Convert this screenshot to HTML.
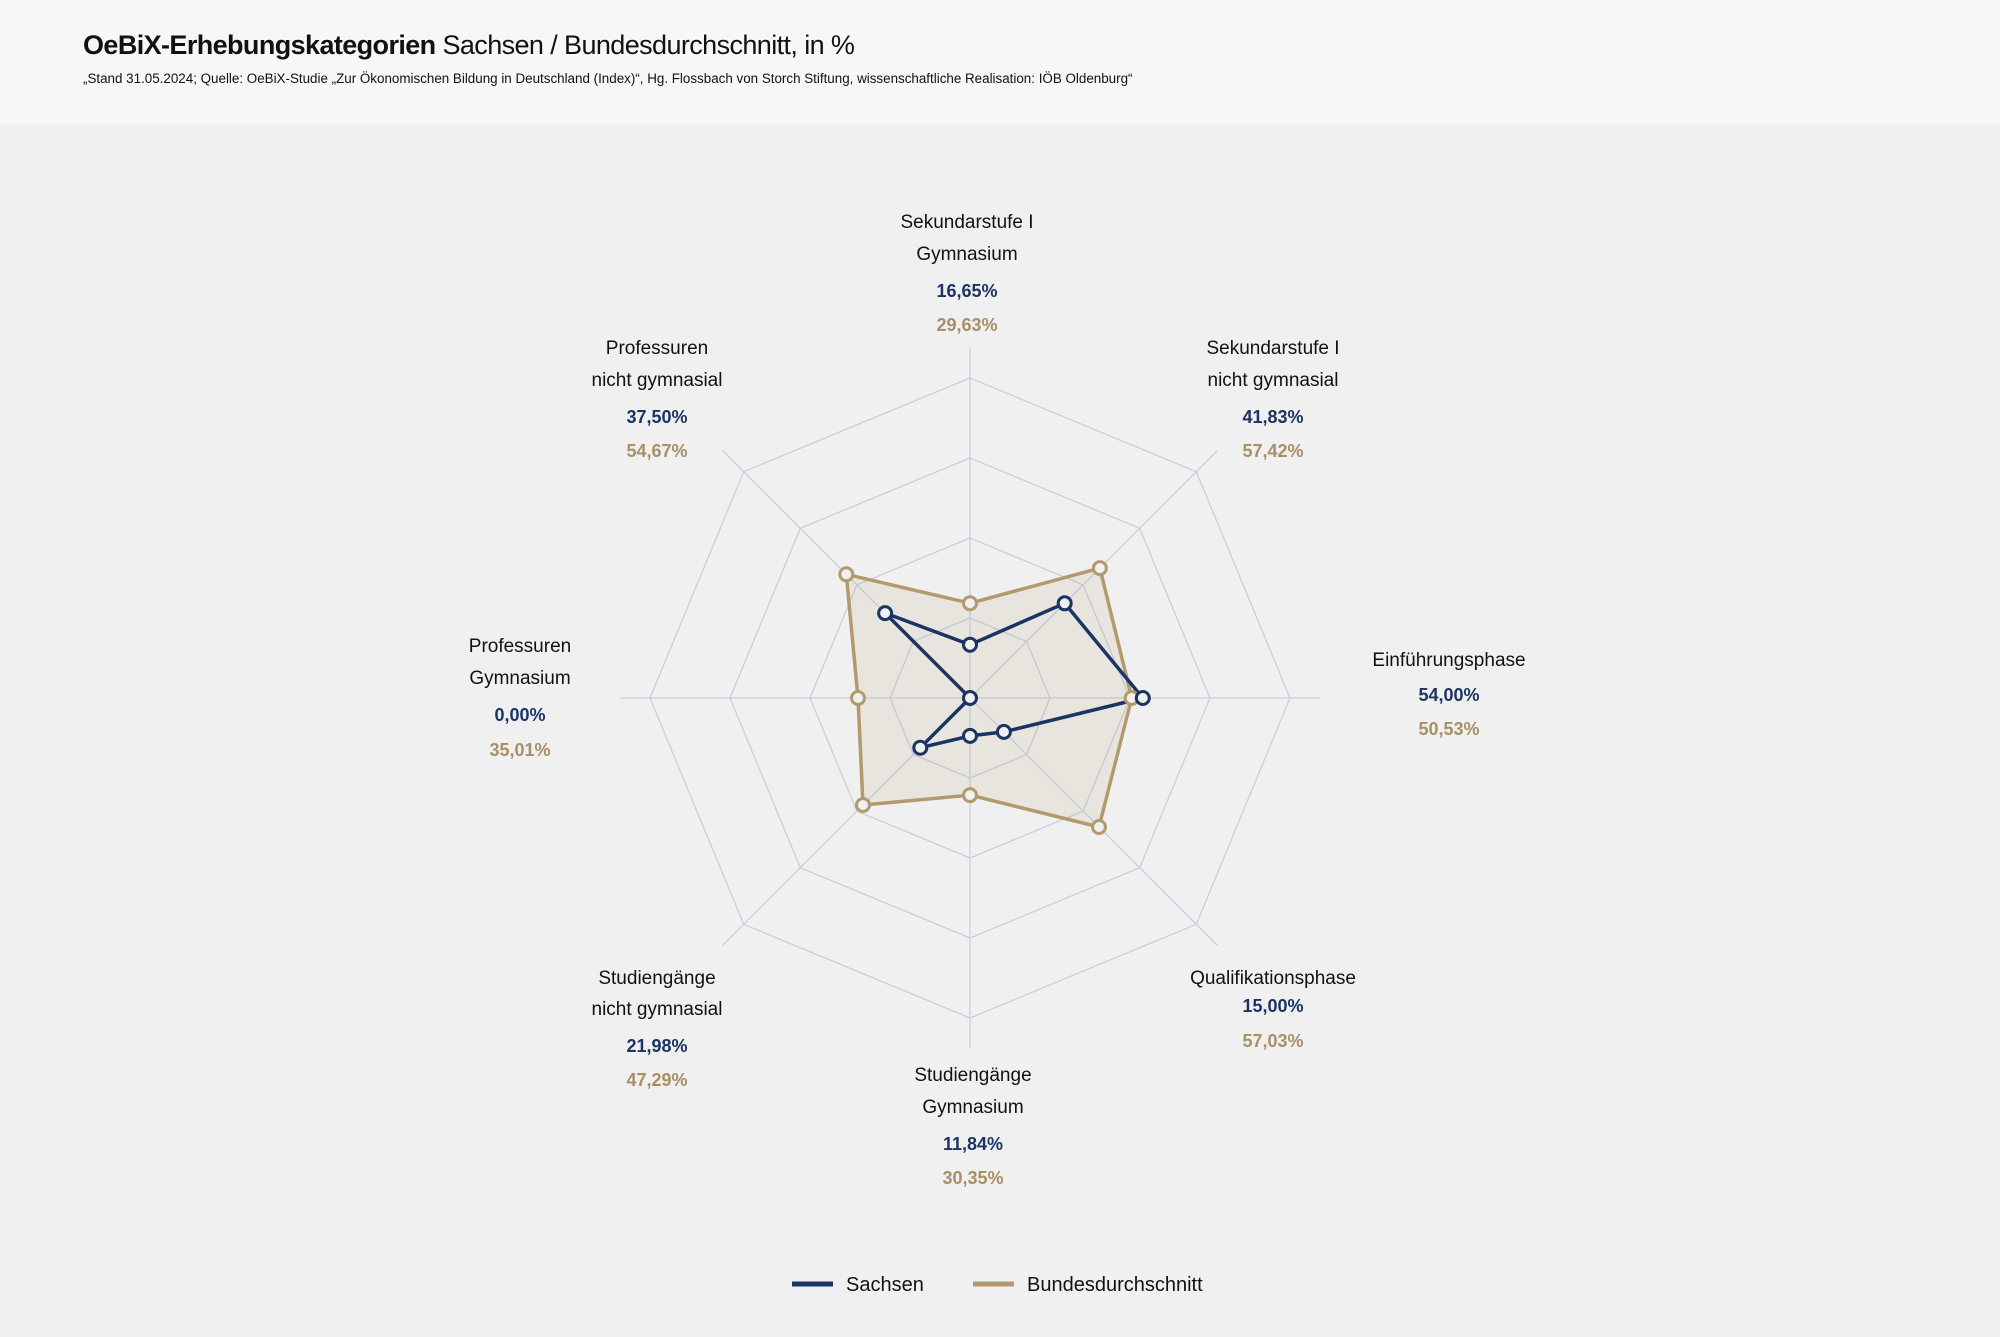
<!DOCTYPE html>
<html><head><meta charset="utf-8"><style>
html,body{margin:0;padding:0}
body{width:2000px;height:1337px;background:#f0f0f0;font-family:"Liberation Sans",sans-serif;position:relative;overflow:hidden}
.hdr{position:absolute;left:0;top:0;width:2000px;height:124px;background:#f7f7f7}
.t{position:absolute;left:83px;top:30px;font-size:27px;color:#111;white-space:nowrap;letter-spacing:-0.6px}
.s{position:absolute;left:83px;top:71px;font-size:13.4px;color:#111;white-space:nowrap;letter-spacing:0}
</style></head><body>
<div class="hdr"></div>
<div class="t"><b>OeBiX-Erhebungskategorien</b> Sachsen / Bundesdurchschnitt, in %</div>
<div class="s">„Stand 31.05.2024; Quelle: OeBiX-Studie „Zur Ökonomischen Bildung in Deutschland (Index)“, Hg. Flossbach von Storch Stiftung, wissenschaftliche Realisation: IÖB Oldenburg“</div>
<svg width="2000" height="1337" style="position:absolute;left:0;top:0" font-family="Liberation Sans, sans-serif">
<g fill="none" stroke="#c8cedc" stroke-width="1.3">
<polygon points="970,618 1026.6,641.4 1050,698 1026.6,754.6 970,778 913.4,754.6 890,698 913.4,641.4"/>
<polygon points="970,538 1083.1,584.9 1130,698 1083.1,811.1 970,858 856.9,811.1 810,698 856.9,584.9"/>
<polygon points="970,458 1139.7,528.3 1210,698 1139.7,867.7 970,938 800.3,867.7 730,698 800.3,528.3"/>
<polygon points="970,378 1196.3,471.7 1290,698 1196.3,924.3 970,1018 743.7,924.3 650,698 743.7,471.7"/>
<line x1="970" y1="348" x2="970" y2="1048"/>
<line x1="620" y1="698" x2="1320" y2="698"/>
<line x1="722.5" y1="450.5" x2="1217.5" y2="945.5"/>
<line x1="1217.5" y1="450.5" x2="722.5" y2="945.5"/>
</g>
<polygon points="970,603.2 1099.9,568.1 1131.7,698 1099,827 970,795.1 863,805 858,698 846.3,574.3" fill="rgba(179,154,110,0.13)" stroke="#b39a6e" stroke-width="3.5" stroke-linejoin="round"/>
<polygon points="970,644.7 1064.7,603.3 1142.8,698 1003.9,731.9 970,735.9 920.3,747.7 970,698 885.1,613.1" fill="none" stroke="#1c3463" stroke-width="3.5" stroke-linejoin="round"/>
<g fill="#f0f0f0" stroke="#b39a6e" stroke-width="3">
<circle cx="970" cy="603.2" r="6.5"/><circle cx="1099.9" cy="568.1" r="6.5"/><circle cx="1131.7" cy="698" r="6.5"/><circle cx="1099" cy="827" r="6.5"/><circle cx="970" cy="795.1" r="6.5"/><circle cx="863" cy="805" r="6.5"/><circle cx="858" cy="698" r="6.5"/><circle cx="846.3" cy="574.3" r="6.5"/>
</g>
<g fill="#f0f0f0" stroke="#1c3463" stroke-width="3">
<circle cx="970" cy="644.7" r="6.5"/><circle cx="1064.7" cy="603.3" r="6.5"/><circle cx="1142.8" cy="698" r="6.5"/><circle cx="1003.9" cy="731.9" r="6.5"/><circle cx="970" cy="735.9" r="6.5"/><circle cx="920.3" cy="747.7" r="6.5"/><circle cx="970" cy="698" r="6.5"/><circle cx="885.1" cy="613.1" r="6.5"/>
</g>
<g font-size="19" text-anchor="middle" fill="#111">
<text x="967" y="228">Sekundarstufe I</text><text x="967" y="260">Gymnasium</text>
<text x="1273" y="354">Sekundarstufe I</text><text x="1273" y="386">nicht gymnasial</text>
<text x="1449" y="666">Einführungsphase</text>
<text x="1273" y="984">Qualifikationsphase</text>
<text x="973" y="1081">Studiengänge</text><text x="973" y="1113">Gymnasium</text>
<text x="657" y="984">Studiengänge</text><text x="657" y="1015">nicht gymnasial</text>
<text x="520" y="652">Professuren</text><text x="520" y="684">Gymnasium</text>
<text x="657" y="354">Professuren</text><text x="657" y="386">nicht gymnasial</text>
</g>
<g font-size="18" font-weight="bold" text-anchor="middle" fill="#1c3463">
<text x="967" y="297">16,65%</text><text x="1273" y="423">41,83%</text><text x="1449" y="701">54,00%</text><text x="1273" y="1012">15,00%</text><text x="973" y="1150">11,84%</text><text x="657" y="1052">21,98%</text><text x="520" y="721">0,00%</text><text x="657" y="423">37,50%</text>
</g>
<g font-size="18" font-weight="bold" text-anchor="middle" fill="#a88f66">
<text x="967" y="331">29,63%</text><text x="1273" y="457">57,42%</text><text x="1449" y="735">50,53%</text><text x="1273" y="1047">57,03%</text><text x="973" y="1184">30,35%</text><text x="657" y="1086">47,29%</text><text x="520" y="756">35,01%</text><text x="657" y="457">54,67%</text>
</g>
<line x1="792" y1="1284" x2="833" y2="1284" stroke="#1c3463" stroke-width="5"/>
<text x="846" y="1291" font-size="20" fill="#111">Sachsen</text>
<line x1="973" y1="1284" x2="1014" y2="1284" stroke="#b39a6e" stroke-width="5"/>
<text x="1027" y="1291" font-size="20" fill="#111">Bundesdurchschnitt</text>
</svg>
</body></html>
